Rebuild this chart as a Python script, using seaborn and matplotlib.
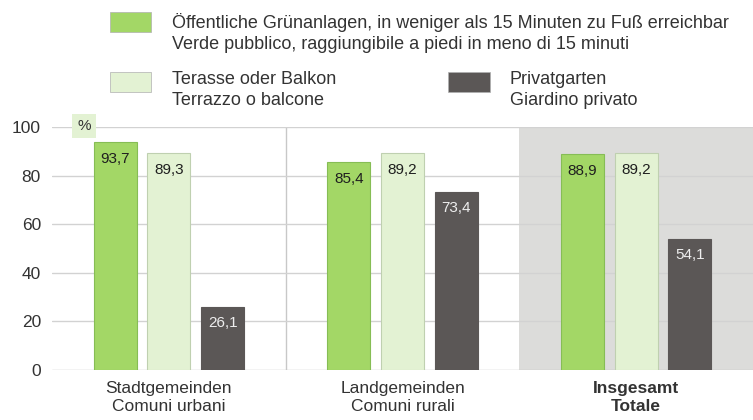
import pandas as pd
import numpy as np
import matplotlib.pyplot as plt
import seaborn as sns
from matplotlib.patches import Rectangle

# =====================================
# Data
# =====================================

categories = [
    "Stadtgemeinden\nComuni urbani",
    "Landgemeinden\nComuni rurali",
    "Insgesamt\nTotale",
]

series = [
    "Öffentliche Grünanlagen, in weniger als 15 Minuten zu Fuß erreichbar\n"
    "Verde pubblico, raggiungibile a piedi in meno di 15 minuti",
    "Terasse oder Balkon\nTerrazzo o balcone",
    "Privatgarten\nGiardino privato",
]

public_green = [93.7, 85.4, 88.9]
terrace = [89.3, 89.2, 89.2]
private_garden = [26.1, 73.4, 54.1]

colors = ["#a3d766", "#e3f2d3", "#5b5756"]
edge_colors = ["#86bd55", "#bfd0b0", "#5b5756"]
label_colors = ["#1f1f1f", "#1f1f1f", "#eeeeee"]

df = pd.DataFrame({
    "Gemeinde": categories * 3,
    "Serie": [s for s in series for _ in categories],
    "Wert": public_green + terrace + private_garden,
})

# =====================================
# Figure
# =====================================

sns.set_style("white")
plt.rcParams["font.family"] = ["Liberation Sans", "DejaVu Sans"]

W, H = 753, 420
fig = plt.figure(figsize=(W / 100, H / 100), dpi=100)
ax = fig.add_axes([52 / W, 1 - 370 / H, (W - 52) / W, (370 - 127) / H])

# gray panel behind the totals
ax.axvspan(1.5, 2.5, color="#dcdcda", zorder=0, lw=0)
ax.axvline(0.5, color="#c8c8c8", lw=1, zorder=0.5)
for yv in [0, 20, 40, 60, 80, 100]:
    ax.axhline(yv, color="#c4c4c4" if yv == 0 else "#d2d2d2", lw=1, zorder=0.5)

sns.barplot(
    data=df,
    x="Gemeinde",
    y="Wert",
    hue="Serie",
    hue_order=series,
    order=categories,
    palette=colors,
    saturation=1,
    width=0.69,
    gap=0.2,
    legend=False,
    zorder=2,
    ax=ax,
)

for cont, ec, lc in zip(ax.containers, edge_colors, label_colors):
    for bar in cont:
        bar.set_edgecolor(ec)
        bar.set_linewidth(0.8)
    ax.bar_label(
        cont,
        labels=[f"{v:.1f}".replace(".", ",") for v in cont.datavalues],
        padding=-17,
        fontsize=11,
        color=lc,
    )

ax.set_xlim(-0.5, 2.5)
ax.set_ylim(0, 100)
ax.set_yticks([0, 20, 40, 60, 80, 100])
ax.set_xlabel("")
ax.set_ylabel("")
sns.despine(ax=ax, left=True, bottom=True, top=True, right=True)
ax.tick_params(axis="y", length=0, pad=8, labelsize=12.5, labelcolor="#333333")
ax.tick_params(axis="x", length=0, pad=8, labelsize=12.5, labelcolor="#333333")
for lab in ax.get_xticklabels():
    lab.set_linespacing(1.2)
ax.get_xticklabels()[2].set_fontweight("bold")

# "%" tag
ax.text(
    (84 - 52) / (W - 52), (370 - 126) / (370 - 127), "%",
    transform=ax.transAxes, ha="center", va="center",
    fontsize=11, color="#333333", zorder=5,
    bbox=dict(boxstyle="square,pad=0.35", fc="#e3f2d3", ec="none"),
)

# =====================================
# Legend
# =====================================

def px_rect(x0, y0, x1, y1, color):
    fig.add_artist(Rectangle(
        (x0 / W, 1 - y1 / H), (x1 - x0) / W, (y1 - y0) / H,
        transform=fig.transFigure, facecolor=color, edgecolor="#b0b0b0", lw=0.5,
    ))

# patch box, text x and baseline of the last text line (pixels)
legend_items = [
    (110, 12, 151, 32, 172, 49),
    (110, 72, 151, 92, 172, 105),
    (448, 72, 490, 92, 510, 105),
]
for (x0, y0, x1, y1, tx, ty), col, name in zip(legend_items, colors, series):
    px_rect(x0, y0, x1, y1, col)
    fig.text(tx / W, 1 - ty / H, name, ha="left", va="baseline",
             fontsize=13, color="#333333", linespacing=1.3)

plt.savefig("out.png", dpi=100)
plt.close()
